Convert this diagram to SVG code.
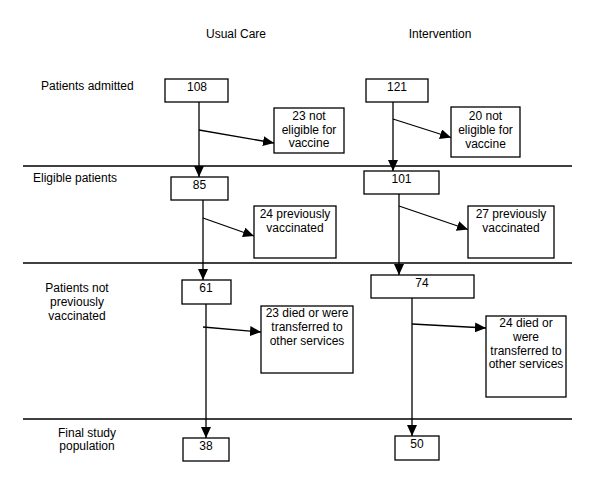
<svg xmlns="http://www.w3.org/2000/svg" width="600" height="497" viewBox="0 0 600 497">
<style>
text{font-family:"Liberation Sans",Arial,sans-serif;font-size:12px;fill:#000}
.c{text-anchor:middle}
.box{fill:#fff;stroke:#000;stroke-width:1.3}
.ln{stroke:#000;stroke-width:1.3;fill:none}
.arr{stroke:#000;stroke-width:1.3;fill:none;marker-end:url(#ah)}
</style>
<defs>
<marker id="ah" viewBox="0 0 11 10" refX="11" refY="5" markerWidth="11" markerHeight="10" markerUnits="userSpaceOnUse" orient="auto">
<path d="M0,0 L11,5 L0,10 z" fill="#000"/>
</marker>
</defs>
<rect width="600" height="497" fill="#fff"/>
<g id="headers">
<text class="c" x="236" y="38">Usual Care</text>
<text class="c" x="440" y="38">Intervention</text>
</g>
<g id="stage-labels">
<text x="41" y="90">Patients admitted</text>
<text x="33" y="182">Eligible patients</text>
<text class="c" x="77" y="292">Patients not</text>
<text class="c" x="77" y="306">previously</text>
<text class="c" x="77" y="319.5">vaccinated</text>
<text class="c" x="87" y="437">Final study</text>
<text class="c" x="87" y="450">population</text>
</g>
<g id="dividers">
<line class="ln" x1="23" y1="166" x2="572" y2="166"/>
<line class="ln" x1="23" y1="263" x2="572" y2="263"/>
<line class="ln" x1="23" y1="419" x2="572" y2="419"/>
</g>
<g id="connectors">
<line class="arr" x1="199" y1="102" x2="199" y2="177"/>
<line class="arr" x1="199" y1="130" x2="274" y2="143"/>
<line class="arr" x1="203" y1="200" x2="203" y2="280"/>
<line class="arr" x1="203" y1="218" x2="254" y2="236"/>
<line class="arr" x1="206" y1="304" x2="206" y2="438"/>
<line class="arr" x1="203" y1="327" x2="261" y2="332"/>
<line class="arr" x1="393" y1="102" x2="393" y2="171"/>
<line class="arr" x1="393" y1="119" x2="451" y2="137.5"/>
<line class="arr" x1="399" y1="194" x2="399" y2="275"/>
<line class="arr" x1="399" y1="206" x2="468" y2="229.5"/>
<line class="arr" x1="412" y1="298" x2="412" y2="436"/>
<line class="arr" x1="412" y1="324" x2="486" y2="328"/>
</g>
<g id="n108"><rect class="box" x="165" y="79" width="63" height="23"/><text class="c" x="197" y="91">108</text></g>
<g id="n23ne"><rect class="box" x="274" y="108" width="70" height="45"/><text class="c" x="309" y="119.5">23 not</text><text class="c" x="309" y="133.5">eligible for</text><text class="c" x="309" y="147">vaccine</text></g>
<g id="n85"><rect class="box" x="171" y="177" width="57" height="23"/><text class="c" x="199.5" y="189">85</text></g>
<g id="n24pv"><rect class="box" x="254" y="206" width="82" height="52"/><text class="c" x="295" y="218">24 previously</text><text class="c" x="295" y="232">vaccinated</text></g>
<g id="n61"><rect class="box" x="182" y="280" width="49" height="24"/><text class="c" x="206" y="292">61</text></g>
<g id="n23d"><rect class="box" x="261" y="306" width="92" height="67"/><text class="c" x="307" y="317">23 died or were</text><text class="c" x="307" y="331">transferred to</text><text class="c" x="307" y="344.5">other services</text></g>
<g id="n38"><rect class="box" x="183" y="438" width="46" height="23"/><text class="c" x="206" y="450">38</text></g>
<g id="n121"><rect class="box" x="366" y="79" width="62" height="23"/><text class="c" x="397" y="91">121</text></g>
<g id="n20ne"><rect class="box" x="451" y="107" width="69" height="50"/><text class="c" x="485.5" y="120">20 not</text><text class="c" x="485.5" y="134">eligible for</text><text class="c" x="485.5" y="147.5">vaccine</text></g>
<g id="n101"><rect class="box" x="364" y="171" width="75" height="23"/><text class="c" x="401.5" y="183">101</text></g>
<g id="n27pv"><rect class="box" x="468" y="206" width="86" height="52"/><text class="c" x="511" y="218">27 previously</text><text class="c" x="511" y="232">vaccinated</text></g>
<g id="n74"><rect class="box" x="371" y="275" width="103" height="23"/><text class="c" x="422" y="287">74</text></g>
<g id="n24d"><rect class="box" x="486" y="316" width="80" height="81"/><text class="c" x="526" y="327">24 died or</text><text class="c" x="526" y="341">were</text><text class="c" x="526" y="355">transferred to</text><text class="c" x="526" y="368">other services</text></g>
<g id="n50"><rect class="box" x="395" y="436" width="44" height="24"/><text class="c" x="417" y="448">50</text></g>
</svg>
